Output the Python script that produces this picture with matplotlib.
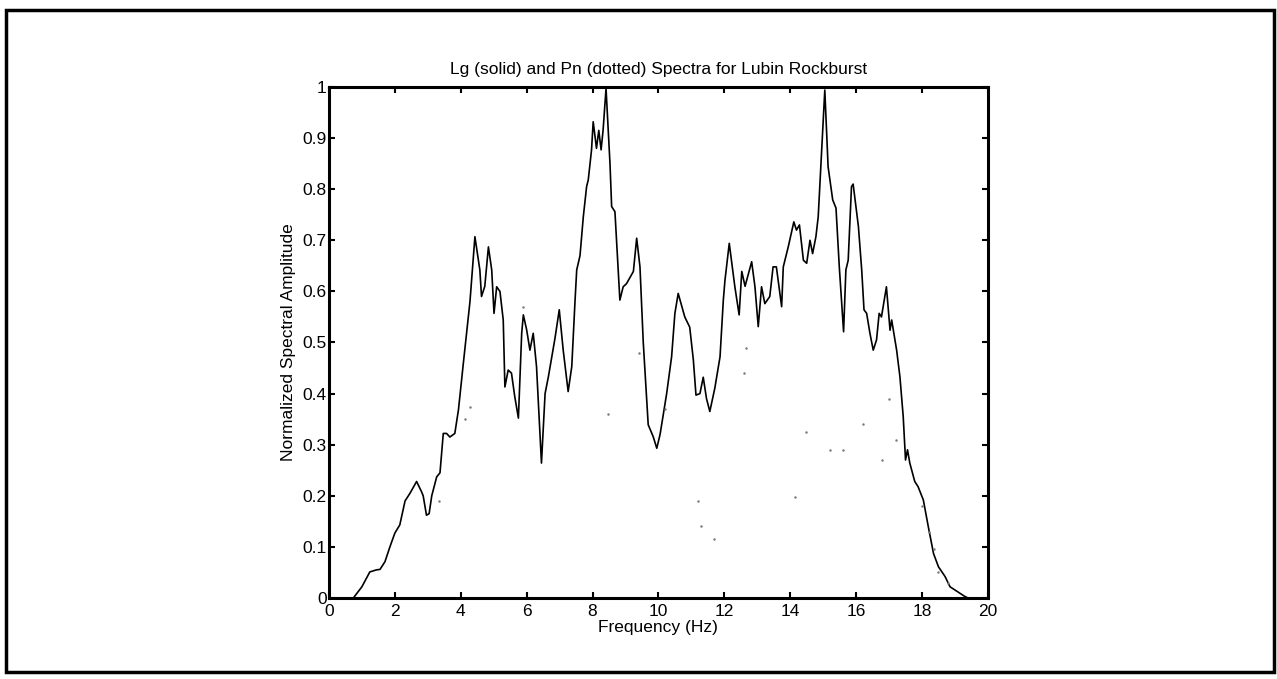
import matplotlib.pyplot as plt
from matplotlib.patches import Rectangle

# Lg spectrum (solid)
lg_freq = [0.0, 0.74, 1.0, 1.24, 1.44, 1.55, 1.70, 1.85, 2.0, 2.15, 2.31, 2.46, 2.66,
           2.81, 2.86, 2.96, 3.04, 3.12, 3.27, 3.37, 3.47, 3.57, 3.67, 3.82, 3.93,
           4.08, 4.28, 4.43, 4.58, 4.63, 4.73, 4.84, 4.94, 5.01, 5.09, 5.19, 5.29,
           5.34, 5.44, 5.54, 5.64, 5.75, 5.85, 5.90, 6.0, 6.1, 6.2, 6.3, 6.45, 6.56,
           6.66, 6.86, 6.99, 7.11, 7.26, 7.37, 7.47, 7.52, 7.62, 7.72, 7.82, 7.87,
           7.97, 8.02, 8.12, 8.19, 8.26, 8.32, 8.41, 8.53, 8.58, 8.68, 8.78, 8.83,
           8.93, 9.03, 9.24, 9.34, 9.44, 9.54, 9.69, 9.84, 9.95, 10.05, 10.25, 10.40,
           10.5, 10.6, 10.8, 10.95, 11.06, 11.14, 11.26, 11.36, 11.46, 11.56, 11.71,
           11.87, 11.97, 12.02, 12.15, 12.32, 12.45, 12.53, 12.63, 12.83, 12.93,
           13.03, 13.13, 13.23, 13.38, 13.48, 13.58, 13.74, 13.79, 13.94, 14.11,
           14.19, 14.28, 14.4, 14.5, 14.6, 14.68, 14.78, 14.85, 14.95, 15.05, 15.15,
           15.29, 15.39, 15.49, 15.62, 15.69, 15.76, 15.86, 15.91, 16.07, 16.17,
           16.24, 16.32, 16.42, 16.52, 16.62, 16.70, 16.77, 16.92, 17.03, 17.08,
           17.23, 17.33, 17.43, 17.50, 17.56, 17.63, 17.78, 17.88, 18.04, 18.19,
           18.35, 18.50, 18.70, 18.85, 19.3, 19.4]
lg_amp = [0.0, 0.0, 0.022, 0.051, 0.055, 0.056, 0.071, 0.10, 0.127, 0.143, 0.19, 0.205,
          0.228, 0.208, 0.20, 0.162, 0.165, 0.20, 0.237, 0.245, 0.322, 0.322, 0.315,
          0.322, 0.368, 0.46, 0.58, 0.707, 0.642, 0.59, 0.61, 0.687, 0.642, 0.557,
          0.609, 0.60, 0.544, 0.413, 0.446, 0.44, 0.394, 0.352, 0.518, 0.554, 0.525,
          0.485, 0.518, 0.453, 0.264, 0.40, 0.433, 0.508, 0.564, 0.485, 0.404, 0.453,
          0.583, 0.642, 0.67, 0.746, 0.805, 0.818, 0.877, 0.932, 0.88, 0.915, 0.877,
          0.915, 0.997, 0.85, 0.766, 0.756, 0.642, 0.583, 0.609, 0.615, 0.639, 0.704,
          0.648, 0.50, 0.339, 0.316, 0.293, 0.32, 0.40, 0.472, 0.557, 0.596, 0.55,
          0.53, 0.466, 0.397, 0.40, 0.432, 0.39, 0.365, 0.41, 0.472, 0.583, 0.622,
          0.694, 0.609, 0.554, 0.639, 0.61, 0.658, 0.609, 0.531, 0.609, 0.576, 0.59,
          0.648, 0.648, 0.57, 0.648, 0.687, 0.736, 0.72, 0.73, 0.661, 0.655, 0.70,
          0.674, 0.707, 0.746, 0.87, 0.994, 0.844, 0.779, 0.763, 0.648, 0.521, 0.642,
          0.661, 0.805, 0.81, 0.727, 0.642, 0.564, 0.557, 0.518, 0.485, 0.505, 0.557,
          0.55, 0.609, 0.524, 0.544, 0.485, 0.433, 0.355, 0.27, 0.29, 0.264, 0.228,
          0.218, 0.192, 0.14, 0.087, 0.061, 0.042, 0.022, 0.003, 0.0]

# Pn spectrum (dotted) - only scattered faint dots are visible in the scan
pn_freq = [3.35, 4.12, 4.28, 5.9, 8.47, 9.4, 10.2, 11.2, 11.3, 11.7, 12.6, 12.65,
           14.16, 14.48, 15.2, 15.6, 16.2, 16.8, 17.0, 17.2, 18.0, 18.2, 18.35,
           18.5, 18.8]
pn_amp = [0.19, 0.35, 0.374, 0.57, 0.36, 0.48, 0.37, 0.19, 0.14, 0.115, 0.44, 0.489,
          0.198, 0.324, 0.29, 0.29, 0.34, 0.27, 0.39, 0.31, 0.18, 0.13, 0.095,
          0.05, 0.03]

plt.rcParams['font.family'] = ['Liberation Sans', 'DejaVu Sans']

fig = plt.figure(figsize=(12.77, 6.79), dpi=100)
ax = fig.add_axes([0.2576, 0.1193, 0.516, 0.7526])

ax.plot(lg_freq, lg_amp, color='black', linewidth=1.2)
ax.plot(pn_freq, pn_amp, linestyle='none', marker='.', markersize=1.5, color='#777777')

ax.set_xlim(0, 20)
ax.set_ylim(0, 1)
ax.set_xticks(range(0, 21, 2))
ax.set_yticks([i / 10 for i in range(11)])
ax.set_yticklabels(['0', '0.1', '0.2', '0.3', '0.4', '0.5', '0.6', '0.7', '0.8', '0.9', '1'])

ax.tick_params(direction='in', top=True, right=True, length=4, width=1.5,
               labelsize=12.5)
ax.tick_params(axis='y', pad=1.5)
ax.tick_params(axis='x', pad=4)
for s in ax.spines.values():
    s.set_linewidth(2.2)

ax.set_title('Lg (solid) and Pn (dotted) Spectra for Lubin Rockburst', fontsize=12.5, pad=9)
ax.set_xlabel('Frequency (Hz)', fontsize=12.5, labelpad=1)
ax.set_ylabel('Normalized Spectral Amplitude', fontsize=12.5, labelpad=5)

# outer border of the scanned page figure
fig.patches.append(Rectangle((6 / 1277, 7 / 679), 1268 / 1277, 662 / 679,
                             transform=fig.transFigure, fill=False,
                             edgecolor='black', linewidth=2.5))

fig.savefig('out.png', dpi=100)
